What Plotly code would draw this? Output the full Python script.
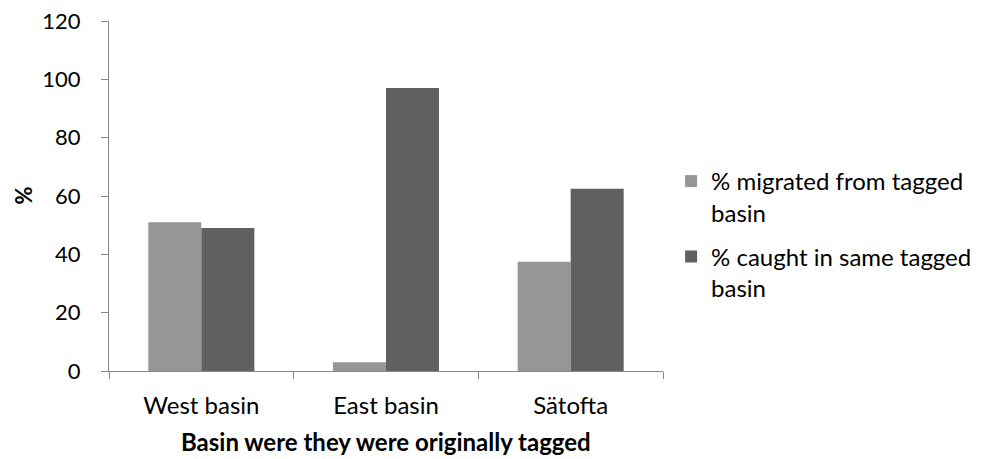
import plotly.graph_objects as go

basins = ["West basin", "East basin", "Sätofta"]
migrated = [51, 3, 37.5]
caught_same = [49, 97, 62.5]
y_ticks = [0, 20, 40, 60, 80, 100, 120]

font_family = "Lato, 'Open Sans', sans-serif"
axis_grey = "#878787"

fig = go.Figure()
fig.add_trace(go.Bar(
    x=basins, y=migrated, name="% migrated from tagged<br>basin",
    legendgroup="a",
    marker=dict(color="#969696", line=dict(width=0)),
))
fig.add_trace(go.Bar(
    x=basins, y=caught_same, name="% caught in same tagged<br>basin",
    legendgroup="b",
    marker=dict(color="#606060", line=dict(width=0)),
))

fig.update_layout(
    width=989, height=459,
    margin=dict(l=109, r=315, t=21, b=88),
    plot_bgcolor="white", paper_bgcolor="white",
    barmode="group", bargap=0.426, bargroupgap=0,
    font=dict(family=font_family, size=24, color="#000000"),
    legend=dict(
        x=1.0146, y=0.39, xanchor="left", yanchor="middle",
        font=dict(size=24), tracegroupgap=10, valign="top",
    ),
    xaxis=dict(
        showline=True, linecolor=axis_grey, linewidth=1,
        ticks="outside", tickson="boundaries", ticklen=7, tickcolor=axis_grey,
        showgrid=False, ticklabelstandoff=13, automargin=False,
        tickfont=dict(size=24),
    ),
    yaxis=dict(
        range=[0, 120], tickvals=y_ticks,
        showline=True, linecolor=axis_grey, linewidth=1,
        ticks="outside", ticklen=7, tickcolor=axis_grey,
        showgrid=False, zeroline=False, ticklabelstandoff=16, automargin=False,
        tickfont=dict(size=22),
    ),
    annotations=[
        dict(text="<b>Basin were they were originally tagged</b>",
             xref="paper", yref="paper", x=0.5, y=-0.2486,
             xanchor="center", yanchor="bottom", showarrow=False,
             font=dict(size=24)),
        dict(text="<b>%</b>", textangle=-90,
             xref="paper", yref="paper", x=-0.156, y=0.5,
             xanchor="center", yanchor="middle", showarrow=False,
             font=dict(size=22)),
    ],
)

fig.write_html("out.html")
